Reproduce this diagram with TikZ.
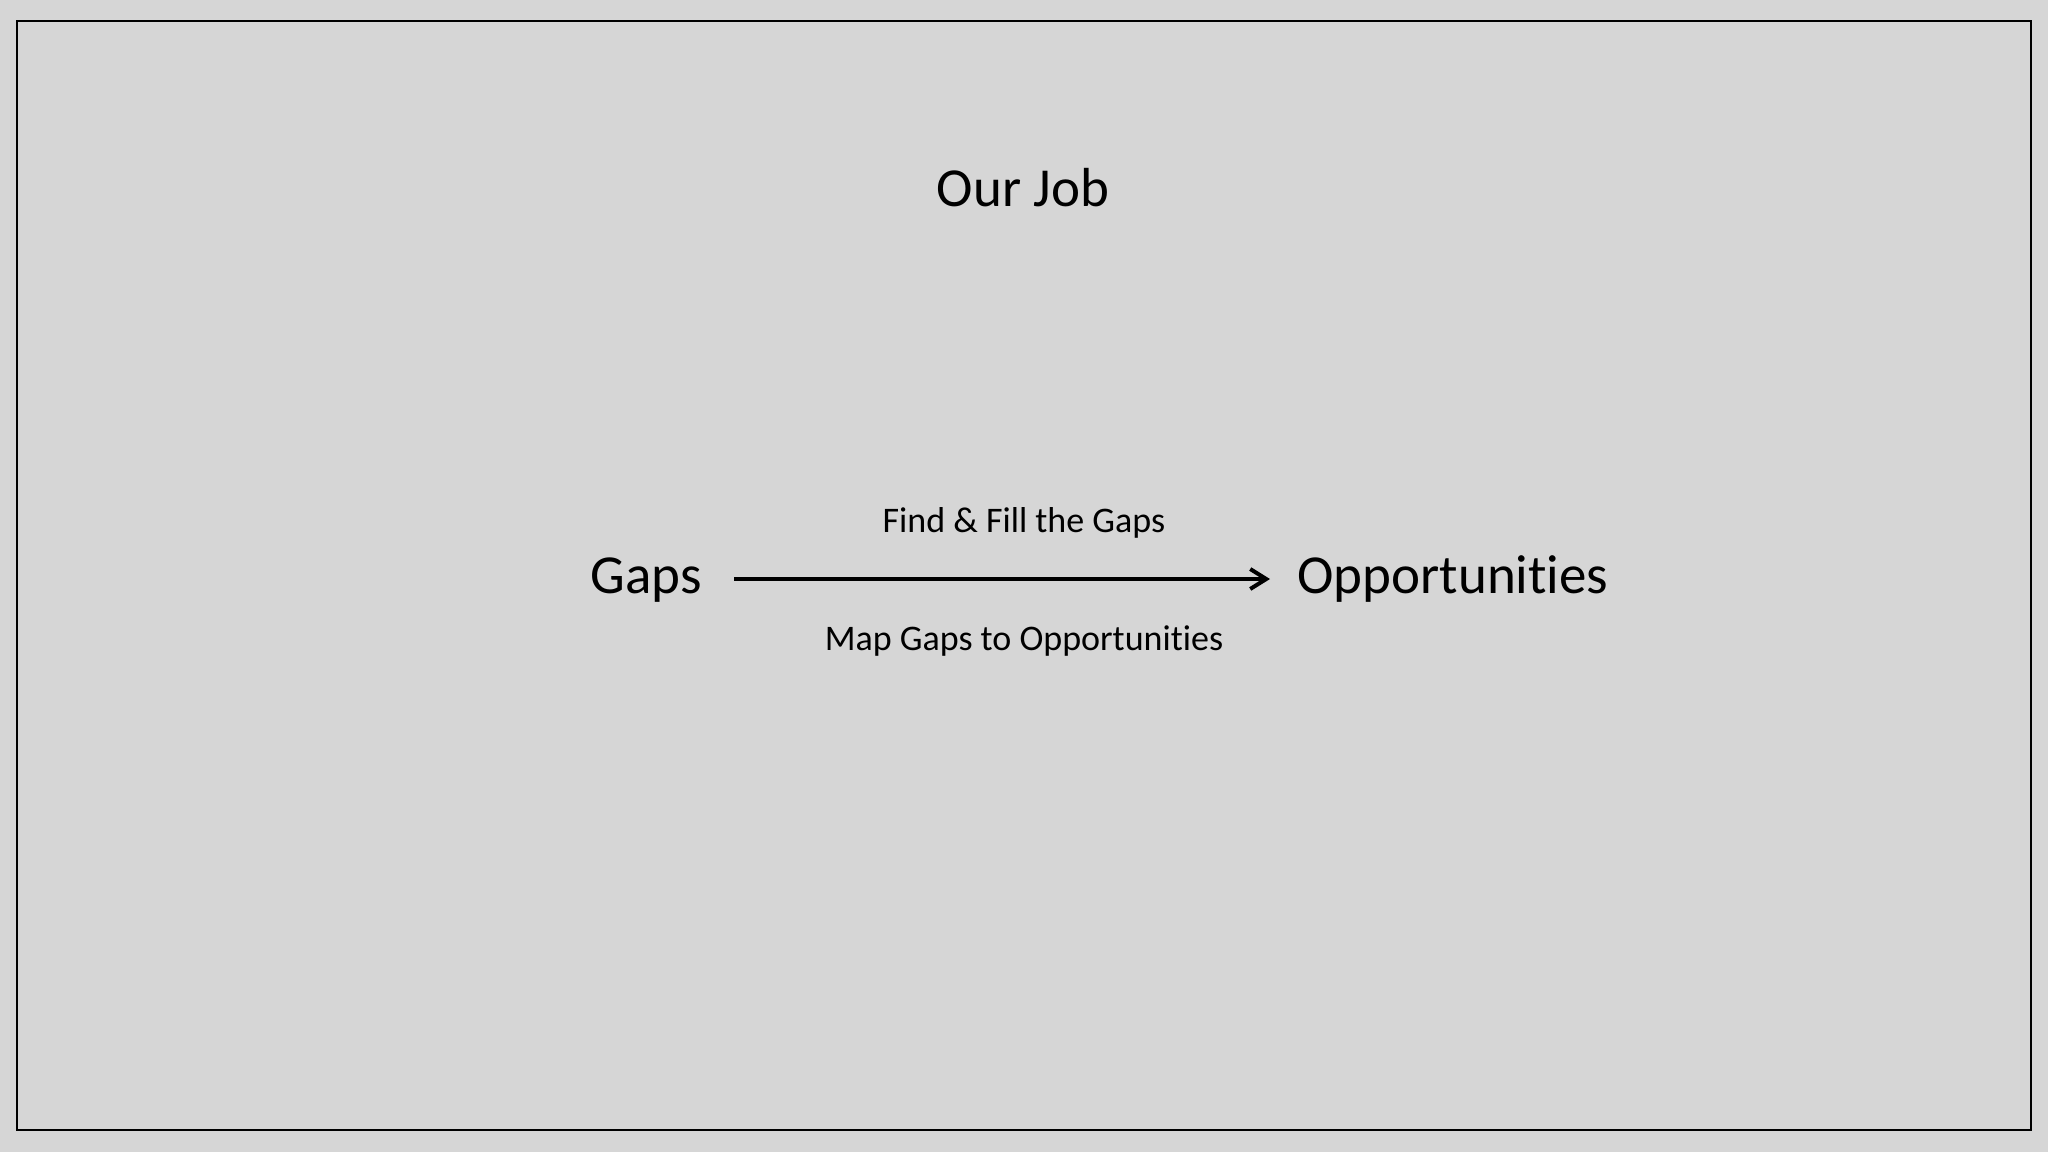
\documentclass[tikz,border=0pt]{standalone}
\usepackage{fontspec}
\setmainfont[Ligatures=NoCommon]{Carlito}
\usetikzlibrary{arrows.meta}
\definecolor{bg}{HTML}{D6D6D6}
\begin{document}
\begin{tikzpicture}[x=0.5pt,y=-0.5pt,
  big/.style={font=\fontsize{27.5pt}{30pt}\selectfont, inner sep=0pt, anchor=base},
  small/.style={font=\fontsize{18pt}{20pt}\selectfont, inner sep=0pt, anchor=base},
  link/.style={line width=2pt, -{Straight Barb[length=8pt,width=10pt,line width=2pt]}}]
\fill[bg] (0,0) rectangle (2048,1152);
\useasboundingbox (0,0) rectangle (2048,1152);
\draw[line width=1.3pt] (17,21) rectangle (2031,1130);
\node[big] (title) at (1023,206) {Our Job};
\node[big] (gaps) at (646,593) {Gaps};
\node[big] (opp) at (1453,593) {Opportunities};
\coordinate (s) at (734,579);
\coordinate (e) at (1270,579);
\draw[link] (s) -- (e);
\node[small] (find) at (1024,532) {Find \& Fill the Gaps};
\node[small] (map) at (1024,650) {Map Gaps to Opportunities};
\end{tikzpicture}
\end{document}
